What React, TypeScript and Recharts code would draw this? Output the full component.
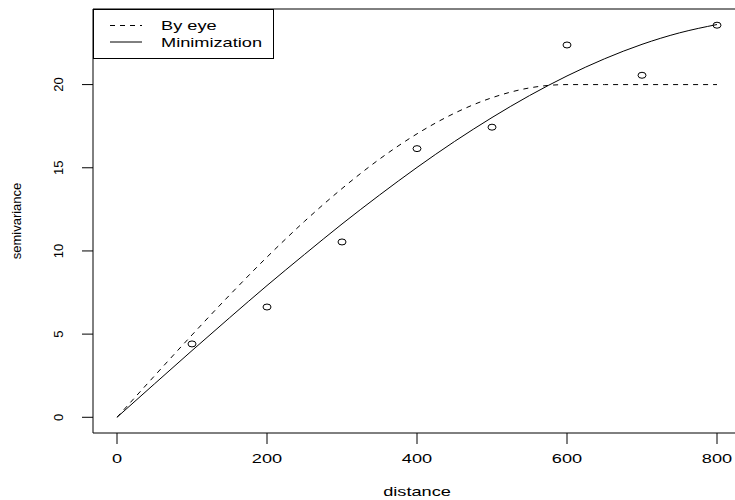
import React from 'react';
import { ComposedChart, Line, Scatter, XAxis, YAxis, ReferenceArea, Customized } from 'recharts';

const FONT = '"Liberation Sans", Arial, Helvetica, sans-serif';
const STRETCH = 1.4;

// observed empirical semivariogram
const lagDistances = [100, 200, 300, 400, 500, 600, 700, 800];
const observedSemivariance = [4.41, 6.63, 10.54, 16.15, 17.44, 22.38, 20.56, 23.57];

// fitted model curves
const modelDistances = [0, 50, 100, 150, 200, 250, 300, 350, 400, 450, 500, 550, 600, 650, 700, 750, 800];
const byEyeModel = [0, 2.49, 4.95, 7.34, 9.63, 11.78, 13.75, 15.52, 17.04, 18.28, 19.21, 19.8, 20, 20, 20, 20, 20];
const minimizationModel = [0, 2.01, 4.01, 5.98, 7.92, 9.79, 11.62, 13.36, 15.02, 16.58, 18.02, 19.34, 20.52, 21.55, 22.42, 23.11, 23.61];

const xTicks = [0, 200, 400, 600, 800];
const yTicks = [0, 5, 10, 15, 20];
const xDomain: [number, number] = [-32, 832];
const yDomain: [number, number] = [-0.944, 24.544];

const legendItems = [
  { name: 'By eye', dash: '5 5' },
  { name: 'Minimization', dash: undefined as string | undefined },
];

const pointData = lagDistances.map((d, i) => ({ distance: d, semivariance: observedSemivariance[i] }));
const byEyeData = modelDistances.map((d, i) => ({ distance: d, value: byEyeModel[i] }));
const minData = modelDistances.map((d, i) => ({ distance: d, value: minimizationModel[i] }));

const XTick = (props: any) => {
  const { x, y, payload } = props;
  return (
    <g transform={`translate(${x},${y + 17}) scale(${STRETCH},1)`}>
      <text x={0} y={0} textAnchor="middle" fontFamily={FONT} fontSize={13} fill="#000">
        {payload.value}
      </text>
    </g>
  );
};

const YTick = (props: any) => {
  const { x, y, payload } = props;
  return (
    <text
      transform={`translate(${x - 17},${y}) rotate(-90)`}
      textAnchor="middle"
      fontFamily={FONT}
      fontSize={13}
      fill="#000"
    >
      {payload.value}
    </text>
  );
};

const XTitle = (props: any) => {
  const vb = props.viewBox || {};
  const cx = vb.x + vb.width / 2;
  return (
    <g transform={`translate(${cx},${vb.y + 63}) scale(${STRETCH},1)`}>
      <text x={0} y={0} textAnchor="middle" fontFamily={FONT} fontSize={13} fill="#000">
        distance
      </text>
    </g>
  );
};

const YTitle = (props: any) => {
  const vb = props.viewBox || {};
  const cy = vb.y + vb.height / 2;
  return (
    <text
      transform={`translate(21,${cy}) rotate(-90)`}
      textAnchor="middle"
      fontFamily={FONT}
      fontSize={13}
      fill="#000"
    >
      semivariance
    </text>
  );
};

const LegendBox = () => (
  <g transform="translate(93,9)">
    <rect x={0.5} y={0.5} width={180} height={49} fill="#fff" stroke="#000" strokeWidth={1} />
    {legendItems.map((it, i) => {
      const cy = 16.5 + i * 16.5;
      return (
        <g key={it.name}>
          <line x1={17} x2={49} y1={cy} y2={cy} stroke="#000" strokeWidth={1} strokeDasharray={it.dash} />
          <g transform={`translate(68,${cy + 4.7}) scale(${STRETCH},1)`}>
            <text x={0} y={0} fontFamily={FONT} fontSize={13} fill="#000">
              {it.name}
            </text>
          </g>
        </g>
      );
    })}
  </g>
);

const Ring = (props: any) => {
  const { cx, cy } = props;
  return <ellipse cx={cx} cy={cy} rx={4} ry={3} fill="none" stroke="#000" strokeWidth={1} />;
};

export default function App() {
  return (
    <div style={{ position: 'absolute', left: 0, top: 0, width: 735, height: 500, overflow: 'hidden', background: '#fff' }}>
      <ComposedChart
        width={760}
        height={500}
        margin={{ top: 9, right: 19, bottom: 66, left: 92 }}
        style={{ fontFamily: FONT }}
      >
        <XAxis
          type="number"
          dataKey="distance"
          domain={xDomain}
          ticks={xTicks}
          allowDataOverflow
          height={1}
          axisLine={false}
          tickLine={{ stroke: '#000' }}
          tickSize={11}
          tick={<XTick />}
          interval={0}
          label={<XTitle />}
        />
        <YAxis
          type="number"
          domain={yDomain}
          ticks={yTicks}
          allowDataOverflow
          width={1}
          axisLine={false}
          tickLine={{ stroke: '#000' }}
          tickSize={11}
          tick={<YTick />}
          interval={0}
          label={<YTitle />}
        />
        <ReferenceArea
          x1={xDomain[0]}
          x2={xDomain[1]}
          y1={yDomain[0]}
          y2={yDomain[1]}
          fill="none"
          fillOpacity={0}
          stroke="#000"
          strokeWidth={1}
          ifOverflow="visible"
        />
        <Line
          data={byEyeData}
          dataKey="value"
          name="By eye"
          type="monotone"
          stroke="#000"
          strokeWidth={1}
          strokeDasharray="5 5"
          dot={false}
          activeDot={false}
          isAnimationActive={false}
        />
        <Line
          data={minData}
          dataKey="value"
          name="Minimization"
          type="monotone"
          stroke="#000"
          strokeWidth={1}
          dot={false}
          activeDot={false}
          isAnimationActive={false}
        />
        <Scatter
          data={pointData}
          dataKey="semivariance"
          name="observed"
          legendType="none"
          shape={<Ring />}
          isAnimationActive={false}
        />
        <Customized component={<LegendBox />} />
      </ComposedChart>
    </div>
  );
}
